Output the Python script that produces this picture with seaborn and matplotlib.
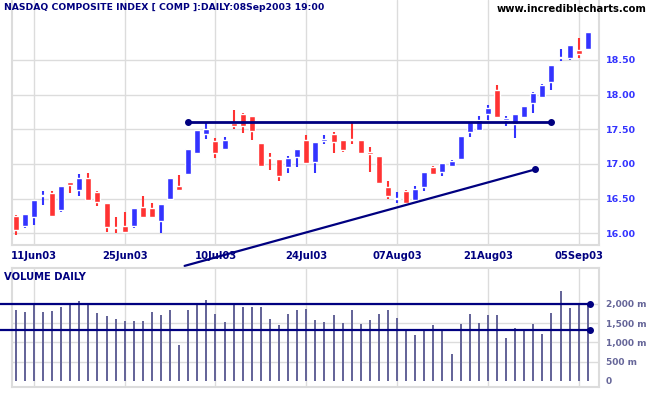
import matplotlib.pyplot as plt
import numpy as np
import pandas as pd
import seaborn as sns

# price in hundreds (16.00 = 1600), one row per trading day 09Jun03 .. 08Sep03
opens = [16.25, 16.11, 16.24, 16.53, 16.58, 16.33, 16.74, 16.62, 16.80, 16.59,
         16.43, 16.08, 16.10, 16.11, 16.38, 16.36, 16.17, 16.49, 16.68, 16.86,
         17.15, 17.43, 17.33, 17.22, 17.59, 17.72, 17.69, 17.30, 17.10, 17.07,
         16.95, 17.10, 17.34, 17.03, 17.33, 17.43, 17.34, 17.36, 17.34, 17.17,
         17.11, 16.67, 16.49, 16.61, 16.48, 16.66, 16.95, 16.88, 16.97, 17.07,
         17.46, 17.49, 17.72, 18.07, 17.63, 17.57, 17.68, 17.88, 17.97, 18.18,
         18.52, 18.53, 18.64, 18.66]
highs = [16.26, 16.28, 16.48, 16.61, 16.61, 16.68, 16.74, 16.86, 16.87, 16.61,
         16.43, 16.24, 16.31, 16.36, 16.54, 16.43, 16.42, 16.80, 16.84, 17.22,
         17.49, 17.60, 17.37, 17.39, 17.78, 17.73, 17.69, 17.30, 17.16, 17.07,
         17.12, 17.22, 17.42, 17.32, 17.42, 17.46, 17.34, 17.59, 17.34, 17.24,
         17.11, 16.75, 16.60, 16.63, 16.68, 16.88, 16.97, 17.01, 17.06, 17.40,
         17.61, 17.69, 17.85, 18.14, 17.69, 17.72, 17.83, 18.03, 18.15, 18.43,
         18.65, 18.72, 18.81, 18.90]
lows = [15.98, 16.07, 16.12, 16.41, 16.25, 16.30, 16.58, 16.54, 16.47, 16.39,
        16.02, 16.00, 16.00, 16.07, 16.23, 16.23, 16.00, 16.49, 16.61, 16.86,
        17.14, 17.36, 17.09, 17.22, 17.51, 17.44, 17.35, 16.95, 16.91, 16.75,
        16.87, 16.96, 17.02, 16.87, 17.28, 17.15, 17.17, 17.29, 17.15, 16.89,
        16.72, 16.50, 16.43, 16.42, 16.48, 16.61, 16.85, 16.83, 16.95, 17.07,
        17.39, 17.48, 17.63, 17.67, 17.54, 17.38, 17.67, 17.74, 17.97, 18.06,
        18.49, 18.50, 18.53, 18.66]
closes = [16.04, 16.28, 16.48, 16.55, 16.25, 16.68, 16.69, 16.80, 16.48, 16.45,
          16.09, 16.07, 16.02, 16.36, 16.24, 16.23, 16.42, 16.80, 16.63, 17.22,
          17.49, 17.50, 17.16, 17.35, 17.55, 17.54, 17.48, 16.97, 17.08, 16.82,
          17.09, 17.22, 17.02, 17.32, 17.36, 17.31, 17.20, 17.34, 17.15, 17.14,
          16.73, 16.53, 16.51, 16.44, 16.64, 16.88, 16.85, 17.01, 17.04, 17.40,
          17.61, 17.63, 17.80, 17.67, 17.66, 17.72, 17.83, 18.02, 18.14, 18.43,
          18.54, 18.71, 18.59, 18.90]
# volume in millions
volumes = [1850, 1780, 1960, 1780, 1810, 1910, 1970, 2070, 1970, 1760,
           1680, 1600, 1550, 1550, 1550, 1780, 1710, 1850, 920, 1840,
           2020, 2110, 1730, 1520, 1970, 1910, 1910, 1910, 1600, 1450,
           1730, 1840, 1880, 1580, 1520, 1710, 1500, 1850, 1470, 1580,
           1730, 1850, 1630, 1340, 1190, 1320, 1450, 1320, 690, 1470,
           1730, 1500, 1710, 1710, 1110, 1370, 1340, 1470, 1210, 1760,
           2330, 1890, 1970, 2020]

tick_labels = ["11Jun03", "25Jun03", "10Jul03", "24Jul03", "07Aug03", "21Aug03", "05Sep03"]
price_ticks = [16.0, 16.5, 17.0, 17.5, 18.0, 18.5]
vol_ticks = [0, 500, 1000, 1500, 2000]
vol_tick_labels = ["0", "500 m", "1,000 m", "1,500 m", "2,000 m"]

# drawn lines: (day index, value)
resistance = ([19.0, 59.0], [17.60, 17.60])
trend = ([18.6, 57.2], [15.53, 16.92])
vol_levels = [2000, 1330]

days = pd.bdate_range("2003-06-09", "2003-09-08")
days = days[~days.isin(pd.to_datetime(["2003-07-04", "2003-09-01"]))]
df = pd.DataFrame({"Date": days, "Open": opens, "High": highs, "Low": lows,
                   "Close": closes, "Volume": volumes})
df["Day"] = np.arange(len(df))
tick_pos = [df.index[df.Date == pd.to_datetime(t, format="%d%b%y")][0] for t in tick_labels]

navy = "#000080"
up_col = "#3333ff"
down_col = "#ff3333"
vol_col = "#666699"
grid_col = "#dcdcdc"

sns.set_style("white")
plt.rcParams["font.family"] = ["DejaVu Sans"]
plt.rcParams["font.weight"] = "bold"

fig = plt.figure(figsize=(6.51, 3.95), dpi=100)
ax = fig.add_axes([12 / 651, 150 / 395, 587 / 651, 245 / 395])
ax2 = fig.add_axes([12 / 651, 8.3 / 395, 587 / 651, 118.7 / 395])

xlim = (-0.41, 64.24)

# candles
for _, r in df.iterrows():
    col = up_col if r.Close >= r.Open else down_col
    ax.vlines(r.Day, r.Low, r.High, color=col, lw=1.5, zorder=3)
    lo = min(r.Open, r.Close)
    h = max(abs(r.Close - r.Open), 0.024)
    ax.bar(r.Day, h, bottom=lo, width=0.66, color=col, zorder=3)

ax.plot(*resistance, color=navy, lw=2.0, marker="o", ms=4, zorder=4)
ax.plot(*trend, color=navy, lw=1.6, zorder=4, clip_on=False)
ax.plot(trend[0][1], trend[1][1], "o", color=navy, ms=4, zorder=4)

ax.set_xlim(*xlim)
ax.set_ylim(15.831, 19.362)
ax.set_yticks(price_ticks)
ax.set_yticklabels([f"{v:.2f}" for v in price_ticks], color=up_col, fontsize=6.8, fontweight="bold")
ax.yaxis.tick_right()
ax.set_xticks(tick_pos)
ax.set_xticklabels(tick_labels, color=navy, fontsize=7.2, fontweight="bold")
ax.tick_params(length=0, pad=4)
ax.tick_params(axis="y", pad=5)
ax.grid(True, color=grid_col, lw=1)
ax.set_axisbelow(True)
ax.spines["top"].set_visible(False)
for s in ["left", "right", "bottom"]:
    ax.spines[s].set_color(grid_col)
    ax.spines[s].set_linewidth(1.5)

ax.text(-0.014, 0.987, "NASDAQ COMPOSITE INDEX [ COMP ]:DAILY:08Sep2003 19:00",
        transform=ax.transAxes, color=navy, fontsize=6.7, fontweight="bold", va="top")
fig.text(0.993, 0.99, "www.incrediblecharts.com", color="black", fontsize=7.2,
         fontweight="bold", ha="right", va="top")

# volume
sns.barplot(data=df, x="Day", y="Volume", native_scale=True, width=0.2203,
            color=vol_col, saturation=1, errorbar=None, ax=ax2, zorder=3,
            linewidth=0)
for v in vol_levels:
    ax2.plot([-1.75, 63.3], [v, v], color=navy, lw=1.6, zorder=4, clip_on=False)
    ax2.plot(63.3, v, "o", color=navy, ms=4, zorder=4, clip_on=False)
for v in vol_ticks[1:]:
    ax2.axhline(v, color=grid_col, lw=1, zorder=1)
ax2.set_xlim(*xlim)
ax2.set_ylim(-156, 2935)
ax2.set_xticks(tick_pos)
ax2.set_xticklabels([])
ax2.grid(True, axis="x", color=grid_col, lw=1)
ax2.set_yticks(vol_ticks)
ax2.set_yticklabels(vol_tick_labels, color=vol_col, fontsize=6.5, fontweight="bold")
ax2.yaxis.tick_right()
ax2.tick_params(axis="y", length=0, pad=5)
ax2.tick_params(axis="x", length=6, color=grid_col, width=1)
ax2.set_xlabel("")
ax2.set_ylabel("")
ax2.set_axisbelow(True)
for s in ["left", "right", "bottom", "top"]:
    ax2.spines[s].set_color(grid_col)
    ax2.spines[s].set_linewidth(1.5)
ax2.text(-0.014, 0.97, "VOLUME DAILY", transform=ax2.transAxes, color=navy,
         fontsize=7.2, fontweight="bold", va="top")

fig.savefig("out.png", dpi=100)
